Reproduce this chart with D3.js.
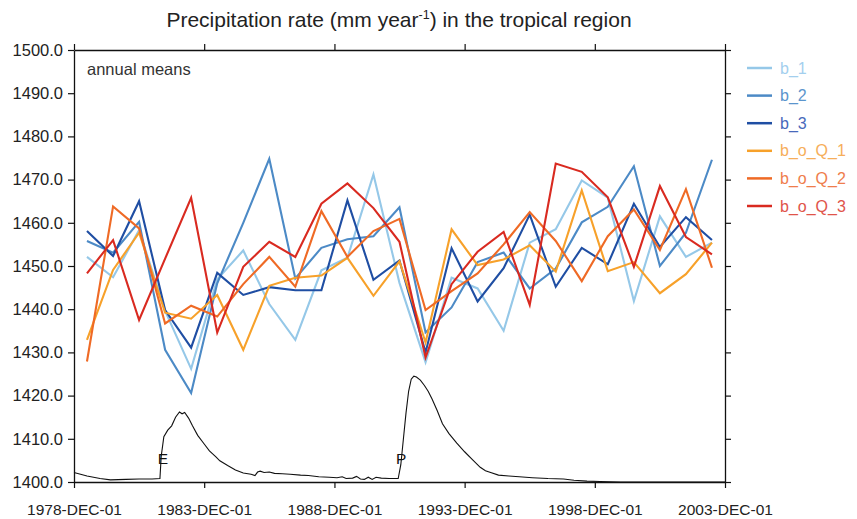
<!DOCTYPE html>
<html>
<head>
<meta charset="utf-8">
<script src="https://cdn.jsdelivr.net/npm/d3@7"></script>
<style>
  body { margin: 0; background: #fff; }
  svg { display: block; font-family: "Liberation Sans", Arial, Helvetica, sans-serif; }
</style>
</head>
<body>
<svg id="chart" width="857" height="519"></svg>
<script>
// ---------- data ----------
const years = d3.range(1979, 2004); // annual means, plotted mid-year
const seriesNames = ["b_1", "b_2", "b_3", "b_o_Q_1", "b_o_Q_2", "b_o_Q_3"];
const b_1 = [1452.1,1447.4,1458.3,1439.6,1426.2,1446.9,1453.6,1441.2,1432.9,1449.0,1451.9,1471.2,1446.1,1427.7,1447.3,1444.8,1435.0,1455.4,1458.5,1469.8,1465.8,1441.9,1461.5,1452.1,1455.4];
const b_2 = [1455.8,1453.1,1460.2,1430.6,1420.6,1446.0,1460.0,1474.8,1447.1,1454.2,1456.2,1456.9,1463.6,1434.6,1440.4,1450.9,1453.1,1444.8,1449.4,1460.1,1463.7,1473.1,1450.0,1457.7,1474.6];
const b_3 = [1458.1,1452.3,1465.0,1439.8,1431.1,1448.4,1443.3,1445.1,1444.4,1444.4,1465.2,1446.8,1451.3,1430.0,1454.1,1441.8,1449.5,1461.9,1445.2,1454.2,1450.4,1464.4,1454.4,1461.3,1456.0];
const b_o_Q_1 = [1432.9,1449.1,1457.7,1439.2,1437.8,1443.3,1430.6,1445.4,1447.3,1447.8,1451.9,1443.1,1451.1,1432.3,1458.5,1450.2,1451.5,1454.8,1448.7,1467.5,1448.8,1450.9,1443.7,1448.1,1455.4];
const b_o_Q_2 = [1427.9,1463.8,1458.7,1436.7,1440.8,1438.3,1445.8,1452.1,1445.2,1462.7,1452.1,1458.1,1460.9,1439.8,1444.2,1448.3,1455.0,1462.5,1455.8,1446.5,1456.9,1463.1,1453.7,1467.8,1449.6];
const b_o_Q_3 = [1448.3,1456.0,1437.5,1451.7,1465.8,1434.6,1449.8,1455.6,1452.1,1464.4,1469.1,1463.4,1455.6,1428.8,1445.8,1453.3,1457.9,1441.0,1473.7,1471.8,1465.9,1449.8,1468.5,1456.7,1452.7];
const seriesValues = [b_1, b_2, b_3, b_o_Q_1, b_o_Q_2, b_o_Q_3];
const lineColors = ["#95c8e8", "#4c8ac6", "#1f4ea3", "#f7a12a", "#ef6a25", "#d92a20"];
const textColors = ["#a3cfee", "#5b95cd", "#4869bb", "#f6ae5a", "#ef7d4c", "#e0544a"];

// volcanic index curve (years since 1978-12-01, value on the same y axis)
const volcT = [0,0.5,1.0,1.4,2.0,2.5,3.0,3.3,3.35,3.45,3.6,3.75,3.9,4.05,4.15,4.25,4.4,4.55,4.75,5.0,5.2,5.45,5.6,5.9,6.2,6.5,6.8,6.95,7.05,7.15,7.3,7.5,7.7,8.0,8.3,8.7,9.0,9.4,9.8,10.1,10.3,10.45,10.7,10.85,11.0,11.15,11.3,11.45,11.6,11.8,12.1,12.45,12.55,12.65,12.75,12.85,12.95,13.05,13.15,13.3,13.45,13.6,13.75,13.95,14.15,14.4,14.7,15.0,15.3,15.6,15.8,16.0,16.3,16.7,17.1,17.6,18.2,18.8,19.2,19.7,20.2,21,25];
const volcV = [1402.2,1401.4,1400.8,1400.5,1400.6,1400.7,1400.7,1400.8,1406,1410.5,1412,1413,1415,1416.2,1415.8,1416.1,1414.8,1413,1410.8,1408.8,1407.2,1405.8,1404.9,1403.8,1402.8,1402.1,1401.8,1401.5,1402.3,1402.5,1402.2,1402.3,1402.0,1401.9,1401.8,1401.6,1401.5,1401.2,1401.1,1401.0,1401.2,1400.8,1400.9,1401.3,1400.7,1400.6,1401.1,1400.6,1401.1,1400.9,1400.8,1400.8,1404,1410,1416,1421,1423.8,1424.5,1424.3,1423.6,1422.4,1421,1419.2,1416.5,1413.5,1411.2,1409,1407,1405.2,1403.4,1402.6,1402.2,1401.6,1401.4,1401.2,1401.0,1400.8,1400.7,1400.4,1400.2,1400.1,1400.0,1400.0];
const volcLabels = [{t: 3.3, text: "E"}, {t: 12.45, text: "P"}];

const yTicks = d3.range(1400, 1501, 10);
const xTickYears = [1978, 1983, 1988, 1993, 1998, 2003];

// ---------- layout ----------
const svg = d3.select("#chart");
const L = 74, R = 725, T = 50, B = 482;
const start = new Date(1978, 11, 1);
const end = new Date(2003, 11, 1);
const fracToDate = t => new Date(start.getTime() + t * 365.25 * 86400000);

const x = d3.scaleTime().domain([start, end]).range([L, R]);
const y = d3.scaleLinear().domain([1400, 1500]).range([B, T]);

// title
const title = svg.append("text")
  .attr("x", 399).attr("y", 27)
  .attr("text-anchor", "middle")
  .attr("font-size", 21).attr("fill", "#222");
title.append("tspan").text("Precipitation rate (mm year");
title.append("tspan").attr("font-size", 12.5).attr("dy", -8).text("-1");
title.append("tspan").attr("dy", 8).text(") in the tropical region");

// series lines
const line = d3.line()
  .x((d, i) => x(new Date(years[i], 5, 1)))
  .y(d => y(d));

seriesValues.forEach((vals, k) => {
  svg.append("path")
    .datum(vals)
    .attr("d", line)
    .attr("fill", "none")
    .attr("stroke", lineColors[k])
    .attr("stroke-width", 2.1)
    .attr("stroke-linejoin", "miter");
});

// volcanic curve
const vline = d3.line()
  .x((d, i) => x(fracToDate(volcT[i])))
  .y(d => y(d));
svg.append("path")
  .datum(volcV)
  .attr("d", vline)
  .attr("fill", "none")
  .attr("stroke", "#111")
  .attr("stroke-width", 1.1);

volcLabels.forEach(v => {
  svg.append("text")
    .attr("x", x(fracToDate(v.t)) + 3)
    .attr("y", y(1404.2))
    .attr("text-anchor", "middle")
    .attr("font-size", 15.5)
    .attr("fill", "#111")
    .text(v.text);
});

// axes
const fmtX = d => d3.timeFormat("%Y-%b-%d")(d).toUpperCase();
const xTickDates = xTickYears.map(yr => new Date(yr, 11, 1));

const axB = svg.append("g").attr("transform", `translate(0,${B})`)
  .call(d3.axisBottom(x).tickValues(xTickDates).tickFormat(fmtX).tickSize(6).tickSizeOuter(0).tickPadding(16));
const axT = svg.append("g").attr("transform", `translate(0,${T})`)
  .call(d3.axisTop(x).tickValues(xTickDates).tickFormat("").tickSize(6).tickSizeOuter(0));
const axL = svg.append("g").attr("transform", `translate(${L},0)`)
  .call(d3.axisLeft(y).tickValues(yTicks).tickFormat(d3.format(".1f")).tickSize(6).tickSizeOuter(0).tickPadding(5));
const axR = svg.append("g").attr("transform", `translate(${R},0)`)
  .call(d3.axisRight(y).tickValues(yTicks).tickFormat("").tickSize(6).tickSizeOuter(0));

[axB, axT, axL, axR].forEach(g => {
  g.selectAll("path.domain").attr("stroke", "#111").attr("stroke-width", 1.3);
  g.selectAll(".tick line").attr("stroke", "#111").attr("stroke-width", 1.2);
  g.selectAll("text").attr("fill", "#222").attr("font-family", "Liberation Sans, Arial, sans-serif");
});
axB.selectAll("text").attr("font-size", 15.5);
axL.selectAll("text").attr("font-size", 16.5);

// annotation
svg.append("text")
  .attr("x", 87).attr("y", 75)
  .attr("font-size", 16.5).attr("fill", "#333")
  .text("annual means");

// legend
const lg = svg.append("g");
seriesNames.forEach((name, k) => {
  const yy = 68 + k * 27.6;
  lg.append("line")
    .attr("x1", 747).attr("x2", 772)
    .attr("y1", yy).attr("y2", yy)
    .attr("stroke", lineColors[k]).attr("stroke-width", 2.5);
  lg.append("text")
    .attr("x", 780).attr("y", yy + 5.5)
    .attr("font-size", 16)
    .attr("fill", textColors[k])
    .text(name);
});
</script>
</body>
</html>
